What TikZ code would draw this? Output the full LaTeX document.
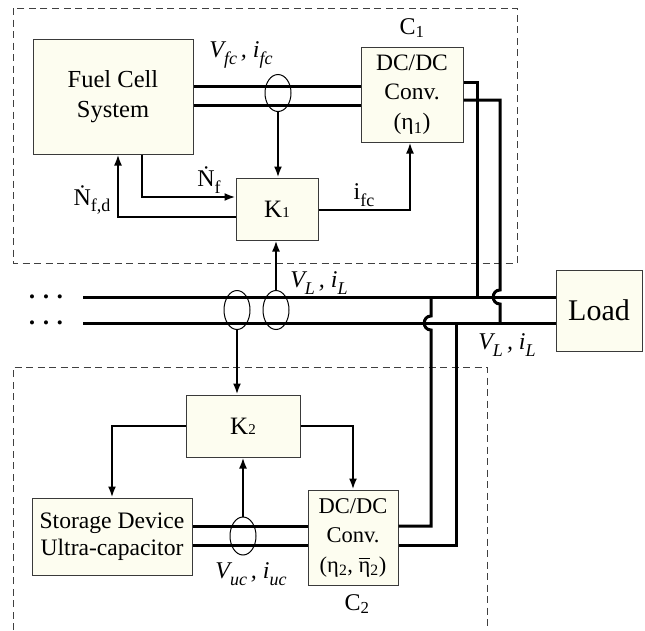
\documentclass[tikz,border=0pt]{standalone}
\usepackage{fontspec}
\setmainfont{Liberation Serif}
\usetikzlibrary{arrows.meta,shapes.geometric}
\definecolor{boxfill}{HTML}{FDFDF0}
\definecolor{boxline}{HTML}{3A3A3A}
\newcommand{\ovbar}[1]{\makebox[0pt][l]{\raisebox{0.58em}{\rule{0.5em}{0.06em}}}#1}
\newcommand{\sbs}[1]{\raisebox{-0.28em}{\fontsize{18}{18}\selectfont #1}}
\begin{document}
\begin{tikzpicture}[x=1pt,y=-1pt,
 blk/.style={draw=boxline,fill=boxfill,line width=1pt,inner sep=0pt,align=center,font=\fontsize{23.5}{29.5}\selectfont},
 bus/.style={line width=3pt,line join=miter},
 sig/.style={line width=2pt,line join=miter,-{Latex[length=11pt,width=8pt]}},
 sense/.style={ellipse,draw,line width=1pt,minimum width=26pt,minimum height=37pt,inner sep=0pt},
 lbl/.style={font=\fontsize{24}{27}\selectfont,inner sep=0pt},
 dotrow/.style={font=\fontsize{17}{17}\selectfont,inner sep=0pt,anchor=base},
 frame/.style={draw=black!75,line width=1pt,dash pattern=on 7pt off 4.5pt}]
\useasboundingbox (0,0) rectangle (645,630);

% dashed frames
\draw[frame] (13,8) rectangle (517,263);
\draw[frame] (13,630) -- (13,367) -- (487,367) -- (487,630);

% blocks
\node[blk,minimum width=160pt,minimum height=115pt,font=\fontsize{24.5}{30}\selectfont] (fcs) at (113,96.5) {Fuel Cell\\System};
\node[blk,minimum width=102pt,minimum height=95pt] (dc1) at (412,94.5) {DC/DC\\Conv.\\(η\textsubscript{1})};
\node[blk,minimum width=82pt,minimum height=62pt,font=\fontsize{25}{29}\selectfont] (k1) at (277,209) {K{\fontsize{15}{15}\selectfont 1}};
\node[blk,minimum width=86pt,minimum height=81pt,font=\fontsize{30}{32}\selectfont] (load) at (599,310.5) {Load};
\node[blk,minimum width=114pt,minimum height=62pt,font=\fontsize{25}{29}\selectfont] (k2) at (243,426) {K{\fontsize{15}{15}\selectfont 2}};
\node[blk,minimum width=160pt,minimum height=77pt,font=\fontsize{23.6}{27.5}\selectfont] (sto) at (112,536.5) {Storage Device\\Ultra-capacitor};
\node[blk,minimum width=90pt,minimum height=95pt,font=\fontsize{22.5}{29.5}\selectfont] (dc2) at (353,537.5) {DC/DC\\Conv.\\(η\textsubscript{2}, \ovbar{η}\textsubscript{2})};

% coordinates
\coordinate (t1) at (0,86);
\coordinate (t2) at (0,105);
\coordinate (p1) at (477,82);
\coordinate (p2) at (500,100);
\coordinate (bl1) at (83,297);
\coordinate (bl2) at (83,323);
\coordinate (s1) at (0,526);
\coordinate (s2) at (0,545);
\coordinate (nf) at (142,197);
\coordinate (nfd) at (118,217);
\coordinate (ifc) at (410,210);

% power lines
\draw[bus] (fcs.east |- t1) -- (dc1.west |- t1);
\draw[bus] (fcs.east |- t2) -- (dc1.west |- t2);
\draw[bus] (bl1) -- (load.west |- bl1);
\draw[bus] (bl2) -- (load.west |- bl2);
\draw[bus] (dc1.east |- p1) -| (p1 |- bl1);
\draw[bus] (dc1.east |- p2) -- (p2) -- (500,290) .. controls (491,290) and (491,304) .. (500,304) -- (p2 |- bl2);
\draw[bus] (431,297) -- (431,316) .. controls (422,316) and (422,330) .. (431,330) -- (431,526) -- (dc2.east |- s1);
\draw[bus] (456,323) -- (456,545) -- (dc2.east |- s2);
\draw[bus] (sto.east |- s1) -- (dc2.west |- s1);
\draw[bus] (sto.east |- s2) -- (dc2.west |- s2);

% sensors
\node[sense] (e1) at (278,93) {};
\node[sense,minimum height=39pt] (e2) at (237,310) {};
\node[sense,minimum height=39pt] (e3) at (276,310) {};
\node[sense,minimum height=38pt] (e4) at (243,536) {};

% signals
\draw[sig] (e1.south) -- (e1.south |- k1.north);
\draw[sig] (fcs.south -| nf) |- (k1.west |- nf);
\draw[sig] (k1.west |- nfd) -| (fcs.south -| nfd);
\draw[sig] (k1.east |- ifc) -| (dc1.south -| ifc);
\draw[sig] (e3.north) -- (e3.north |- k1.south);
\draw[sig] (e2.south) -- (e2.south |- k2.north);
\draw[sig] (k2.west) -| (sto.north);
\draw[sig] (k2.east) -| (dc2.north);
\draw[sig] (e4.north) -- (e4.north |- k2.south);

% labels
\node[lbl] (lvfc) at (241,55) {\itshape V\sbs{fc}\,, i\sbs{fc}};
\node[lbl] (lc1) at (412,28) {C\textsubscript{1}};
\node[lbl] (lnf) at (209,180) {\.N\sbs{f}};
\node[lbl] (lnfd) at (92,200) {\.N\sbs{f,d}};
\node[lbl] (lifc) at (364,195) {i\sbs{fc}};
\node[lbl] (lvl1) at (319,283) {\itshape V\sbs{L}\,, i\sbs{L}};
\node[lbl] (lvl2) at (507,345) {\itshape V\sbs{L}\,, i\sbs{L}};
\node[lbl] (lvuc) at (251,574) {\itshape V\sbs{uc}\,, i\sbs{uc}};
\node[lbl] (lc2) at (357,604) {C\textsubscript{2}};
\node[dotrow] (dots1) at (46,302.5) {•\hspace{8pt}•\hspace{8pt}•};
\node[dotrow] (dots2) at (46,328.5) {•\hspace{8pt}•\hspace{8pt}•};
\end{tikzpicture}
\end{document}
